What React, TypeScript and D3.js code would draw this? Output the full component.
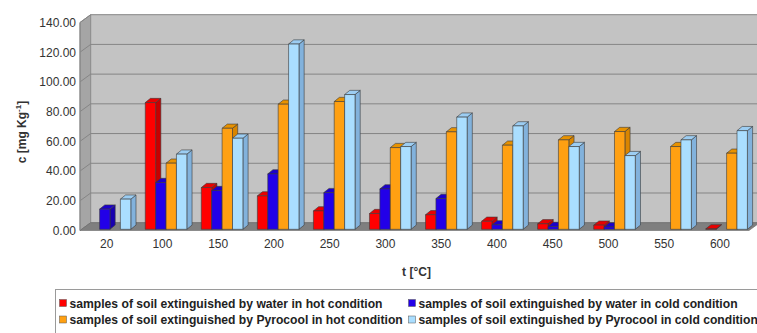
import React from "react";
import * as d3 from "d3";

// Temperatures on the x axis
const temperatures = ["20", "100", "150", "200", "250", "300", "350", "400", "450", "500", "550", "600"];

// Concentration c [mg/kg] per series (null = no sample)
const waterHot = [null, 85.3, 28.1, 22.5, 12.4, 10.6, 9.8, 5.4, 3.7, 2.8, null, 0.3];
const waterCold = [13.6, 31.5, 26.1, 37.3, 24.7, 27.2, 20.7, 3.0, 1.9, 1.6, null, null];
const pyroHot = [null, 44.5, 68.0, 84.2, 86.0, 55.0, 65.6, 56.6, 60.2, 65.8, 55.7, 51.2];
const pyroCold = [20.3, 50.6, 61.3, 124.7, 90.7, 55.7, 75.5, 69.6, 55.7, 49.6, 60.2, 66.4];

const yTicks = [0, 20, 40, 60, 80, 100, 120, 140];

const seriesNames = [
  "samples of soil extinguished by water in hot condition",
  "samples of soil extinguished by water in cold condition",
  "samples of soil extinguished by Pyrocool in hot condition",
  "samples of soil extinguished by Pyrocool in cold condition",
];
const seriesValues = [waterHot, waterCold, pyroHot, pyroCold];
const frontColors = ["#ff0000", "#2200e8", "#ffa012", "#aadeff"];
const sideColors = ["#c80000", "#1800b0", "#d98500", "#82b2dc"];
const topColors = ["#e80000", "#1c00cc", "#e89200", "#9ccdf2"];

const FONT = "'Liberation Sans', Arial, sans-serif";

export default function App() {
  const W = 757;
  const H = 333;

  // depth of the floor / walls
  const DX = 10.7;
  const DY = -7.8;
  const frontLeft = 80;
  const frontRight = 749;
  const frontBottom = 230.5;

  const xLabel = d3.scaleBand<string>().domain(temperatures).range([78.8, 747.8]);
  const xGroup = d3.scalePoint<string>().domain(temperatures).range([110, 726.6]);
  const y = d3.scaleLinear().domain([0, 140]).range([frontBottom, 22.5]);
  const yBar = d3.scaleLinear().domain([0, 140]).range([229.3, 229.3 - 208]);

  const barW = 10.4;
  const groupW = barW * 4;
  const bdx = 5.2;
  const bdy = -4.2;

  const backLeft = frontLeft + DX;
  const backRight = frontRight + DX;

  const pts = (a: [number, number][]) => a.map((p) => p.join(",")).join(" ");

  const bars: React.ReactNode[] = [];
  temperatures.forEach((t, ci) => {
    const gx = (xGroup(t) as number) - groupW / 2;
    seriesValues.forEach((vals, si) => {
      const v = vals[ci];
      if (v === null || v === undefined) return;
      const x0 = gx + si * barW;
      const x1 = x0 + barW;
      const yt = yBar(v);
      const yb = yBar(0);
      bars.push(
        <g key={`${ci}-${si}`} stroke="#3a3a3a" strokeWidth={0.6} strokeLinejoin="round">
          <polygon
            points={pts([[x1, yt], [x1 + bdx, yt + bdy], [x1 + bdx, yb + bdy], [x1, yb]])}
            fill={sideColors[si]}
          />
          <polygon
            points={pts([[x0, yt], [x0 + bdx, yt + bdy], [x1 + bdx, yt + bdy], [x1, yt]])}
            fill={topColors[si]}
          />
          <rect x={x0} y={yt} width={barW} height={Math.max(yb - yt, 0)} fill={frontColors[si]} />
        </g>
      );
    });
  });

  return (
    <svg
      width={W}
      height={H}
      style={{ position: "absolute", left: 0, top: 0, background: "#ffffff" }}
      fontFamily={FONT}
    >
      {/* back wall */}
      <rect x={backLeft} y={y(140) + DY} width={backRight - backLeft + 20} height={y(0) - y(140)} fill="#c3c3c3" />
      {/* left wall */}
      <polygon
        points={pts([[frontLeft, y(140)], [backLeft, y(140) + DY], [backLeft, y(0) + DY], [frontLeft, y(0)]])}
        fill="#a5a5a5"
        stroke="#7a7a7a"
        strokeWidth={0.8}
      />
      {/* grid lines on walls */}
      {yTicks.map((t) => (
        <g key={t} stroke="#858585" strokeWidth={1}>
          <line x1={backLeft} x2={W + 5} y1={y(t) + DY} y2={y(t) + DY} />
          <line x1={frontLeft} x2={backLeft} y1={y(t)} y2={y(t) + DY} />
        </g>
      ))}
      {/* floor */}
      <polygon
        points={pts([[frontLeft, y(0)], [backLeft, y(0) + DY], [backRight, y(0) + DY], [frontRight, y(0)]])}
        fill="#7f7f7f"
        stroke="#6a6a6a"
        strokeWidth={0.6}
      />
      {/* front y axis line */}
      <line x1={frontLeft} x2={frontLeft} y1={y(140)} y2={y(0)} stroke="#8a8a8a" strokeWidth={1} />

      {bars}

      {/* y tick labels */}
      {yTicks.map((t) => (
        <text key={t} x={76} y={y(t) + 4.3} textAnchor="end" fontSize={12} fill="#333">
          {t.toFixed(2)}
        </text>
      ))}
      {/* x tick labels */}
      {temperatures.map((t) => (
        <text
          key={t}
          x={(xLabel(t) as number) + xLabel.bandwidth() / 2}
          y={247.5}
          textAnchor="middle"
          fontSize={12}
          fill="#333"
        >
          {t}
        </text>
      ))}

      {/* axis titles */}
      <text
        transform="translate(25.5,132) rotate(-90)"
        textAnchor="middle"
        fontSize={12}
        fontWeight="bold"
        fill="#333"
      >
        c [mg Kg
        <tspan fontSize={8} dy={-4.5}>-1</tspan>
        <tspan dy={4.5}>]</tspan>
      </text>
      <text x={416.5} y={276} textAnchor="middle" fontSize={12} fontWeight="bold" fill="#333">
        t [°C]
      </text>

      {/* legend */}
      <rect x={55.5} y={289.5} width={720} height={60} fill="#ffffff" stroke="#9a9a9a" strokeWidth={1} />
      {seriesNames.map((name, i) => {
        const col = i % 2;
        const row = Math.floor(i / 2);
        const mx = col === 0 ? 59.5 : 408.5;
        const by = row === 0 ? 307.5 : 324;
        return (
          <g key={name}>
            <rect x={mx} y={by - 8} width={7} height={7} fill={frontColors[i]} stroke="#555" strokeWidth={0.5} />
            <text x={mx + 10} y={by} fontSize={12.15} fontWeight="bold" fill="#222">
              {name}
            </text>
          </g>
        );
      })}
    </svg>
  );
}
